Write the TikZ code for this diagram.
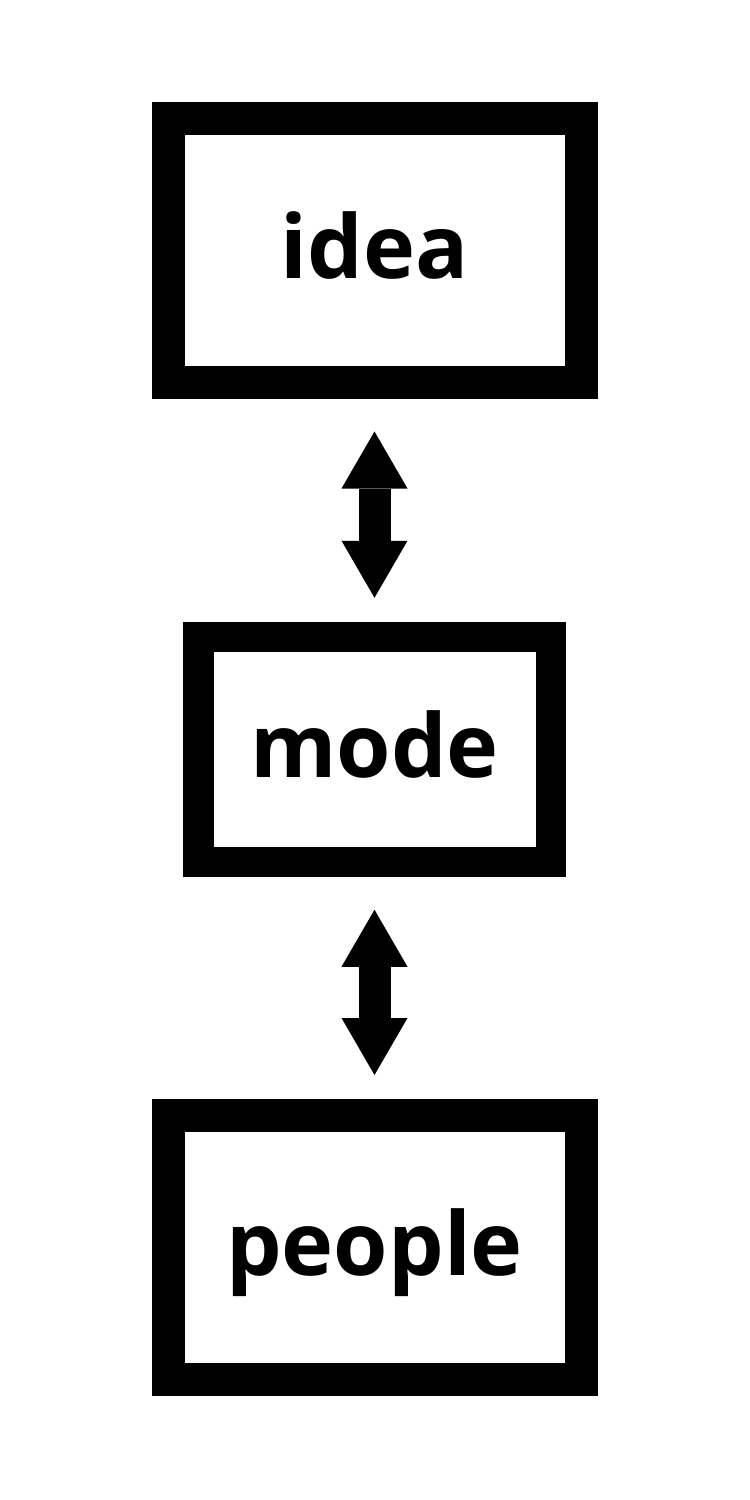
\documentclass[tikz,border=0pt]{standalone}
\usepackage{fontspec}
\setmainfont{Open Sans}
\usetikzlibrary{arrows.meta}

\begin{document}
\begin{tikzpicture}[x=1pt,y=-1pt,
  box/.style={draw=black,line width=33pt,fill=white,inner sep=0pt,
    text height=70pt,text depth=15pt,
    font=\fontsize{88}{106}\selectfont\bfseries},
  twoway/.style={draw=black,line width=32pt,line cap=butt,
    {Triangle[width=66pt,length=57pt,line width=0pt]}-{Triangle[width=66pt,length=57pt,line width=0pt]},
    shorten <=32.5pt,shorten >=24pt}]
% 750 x 1500, three boxes joined by two-way arrows
\useasboundingbox (0,0) rectangle (750,1500);
\node[box,minimum width=413pt,minimum height=264pt] (idea) at (374.5,250.5) {idea};
\node[box,line width=30.5pt,minimum width=352.5pt,minimum height=225pt] (mode) at (374.5,749.5) {mode};
\node[box,minimum width=413pt,minimum height=264pt] (people) at (374.5,1247.5) {people};
\draw[twoway] (idea) -- (mode);
\draw[twoway] (mode) -- (people);
\end{tikzpicture}
\end{document}
